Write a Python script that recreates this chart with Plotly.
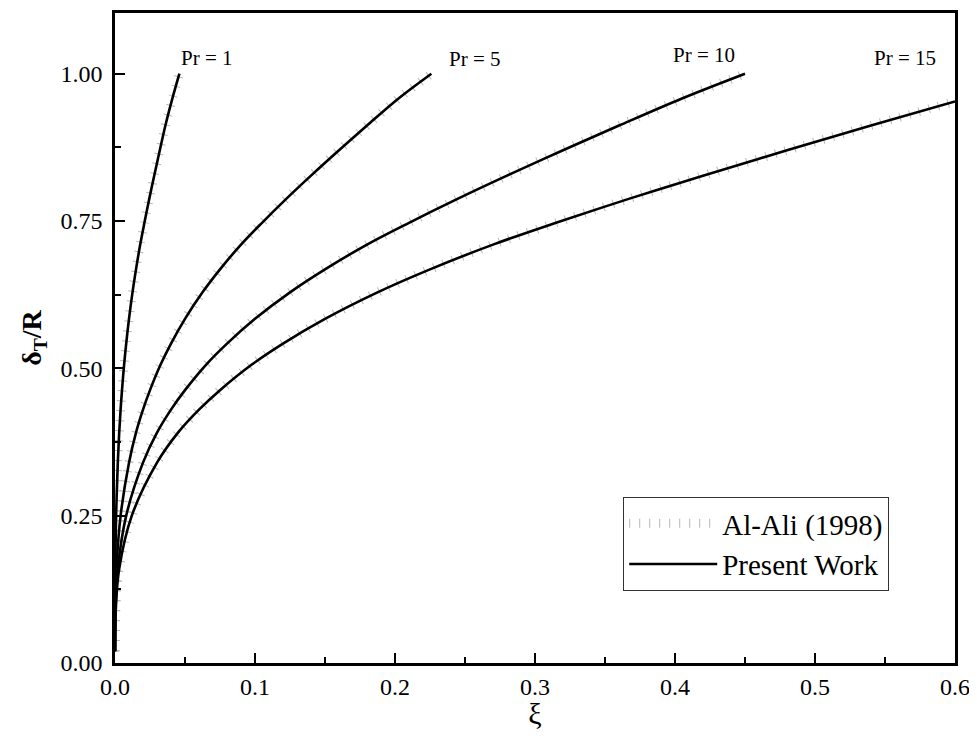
import plotly.graph_objects as go

# ---- data ----
pr_values = [1, 5, 10, 15]

d_common = [0.02, 0.10, 0.16, 0.25, 0.34, 0.391, 0.430, 0.463, 0.506, 0.542, 0.584, 0.629,
            0.668, 0.710, 0.747, 0.788, 0.827, 0.870, 0.912, 0.958, 1.00]

xi_pr1 = [0, 0.00005, 0.0002, 0.0008, 0.002, 0.003, 0.004, 0.005, 0.0065, 0.008, 0.01, 0.0125,
          0.015, 0.018, 0.021, 0.0245, 0.028, 0.032, 0.036, 0.041, 0.046]
d_pr1 = d_common

xi_pr5 = [0, 0.00025, 0.001, 0.004, 0.01, 0.015, 0.02, 0.025, 0.0325, 0.04, 0.05, 0.0625,
          0.075, 0.09, 0.105, 0.1225, 0.14, 0.16, 0.18, 0.2025, 0.226]
d_pr5 = d_common

xi_pr10 = [0, 0.0005, 0.002, 0.008, 0.02, 0.03, 0.04, 0.05, 0.065, 0.08, 0.1, 0.125,
           0.15, 0.18, 0.21, 0.245, 0.28, 0.32, 0.36, 0.405, 0.45]
d_pr10 = d_common

xi_pr15 = [0, 0.00075, 0.003, 0.012, 0.03, 0.045, 0.06, 0.075, 0.0975, 0.12, 0.15, 0.1875,
           0.225, 0.27, 0.315, 0.3675, 0.42, 0.48, 0.54, 0.6]
d_pr15 = [0.02, 0.10, 0.16, 0.25, 0.34, 0.391, 0.430, 0.463, 0.506, 0.542, 0.584, 0.629,
          0.668, 0.710, 0.747, 0.788, 0.827, 0.870, 0.912, 0.953]

# Al-Ali (1998) reference data (coincides with present work)
alali_xi = [xi_pr1, xi_pr5, xi_pr10, xi_pr15]
alali_d = [d_pr1, d_pr5, d_pr10, d_pr15]

present_xi = [xi_pr1, xi_pr5, xi_pr10, xi_pr15]
present_d = [d_pr1, d_pr5, d_pr10, d_pr15]

label_texts = ["Pr = 1", "Pr = 5", "Pr = 10", "Pr = 15"]
label_x = [0.066, 0.257, 0.421, 0.564]
label_y = [1.027, 1.025, 1.032, 1.027]

x_ticks = [0.0, 0.1, 0.2, 0.3, 0.4, 0.5, 0.6]
y_ticks = [0.00, 0.25, 0.50, 0.75, 1.00]

FONT = "Liberation Serif"

fig = go.Figure()

for i, (xs, ys) in enumerate(zip(alali_xi, alali_d)):
    fig.add_trace(go.Scatter(
        x=xs, y=ys, mode="lines", line_shape="spline",
        line=dict(color="#b8b8b8", width=9, dash="1px,9px"),
        name="Al-Ali (1998)", legendgroup="alali", showlegend=(i == 0),
        hoverinfo="skip"))

for i, (xs, ys) in enumerate(zip(present_xi, present_d)):
    fig.add_trace(go.Scatter(
        x=xs, y=ys, mode="lines", line_shape="spline",
        line=dict(color="black", width=2.6),
        name="Present Work", legendgroup="present", showlegend=(i == 0)))

for t, x, y in zip(label_texts, label_x, label_y):
    fig.add_annotation(x=x, y=y, text=t, showarrow=False,
                       font=dict(family=FONT, size=21, color="black"))

# page body has an 8px default margin; margins compensate so the plot area
# lands at x 115..955, y 10..664 in the window
fig.update_layout(
    width=969, height=722,
    margin=dict(l=107, r=22, t=2, b=66),
    paper_bgcolor="white", plot_bgcolor="white",
    font=dict(family=FONT, color="black"),
    legend=dict(
        x=0.605, y=0.2554, xanchor="left", yanchor="top",
        bordercolor="#333333", borderwidth=1, bgcolor="white",
        font=dict(family=FONT, size=29), itemwidth=88,
        tracegroupgap=0),
    showlegend=True,
)

fig.update_xaxes(
    range=[0, 0.6], tickvals=x_ticks, tickformat=".1f",
    showgrid=False, zeroline=False, ticklabeloverflow="allow",
    showline=True, linecolor="black", linewidth=2.5, mirror=True,
    ticks="inside", ticklen=10, tickwidth=2, tickcolor="black",
    minor=dict(ticks="inside", ticklen=6, tickwidth=2, tickcolor="black", dtick=0.05, showgrid=False),
    tickfont=dict(family=FONT, size=24),
    title=dict(text="ξ", font=dict(family=FONT, size=30), standoff=7),
)
fig.update_yaxes(
    range=[0, 1.103], tickvals=y_ticks, tickformat=".2f",
    showgrid=False, zeroline=False, ticklabelstandoff=5,
    showline=True, linecolor="black", linewidth=2.5, mirror=True,
    ticks="inside", ticklen=10, tickwidth=2, tickcolor="black",
    minor=dict(ticks="inside", ticklen=6, tickwidth=2, tickcolor="black", dtick=0.125, showgrid=False),
    tickfont=dict(family=FONT, size=24),
    title=dict(text="<b>δ<sub>T</sub>/R</b>", font=dict(family=FONT, size=28), standoff=11),
)

fig.write_html("out.html")
